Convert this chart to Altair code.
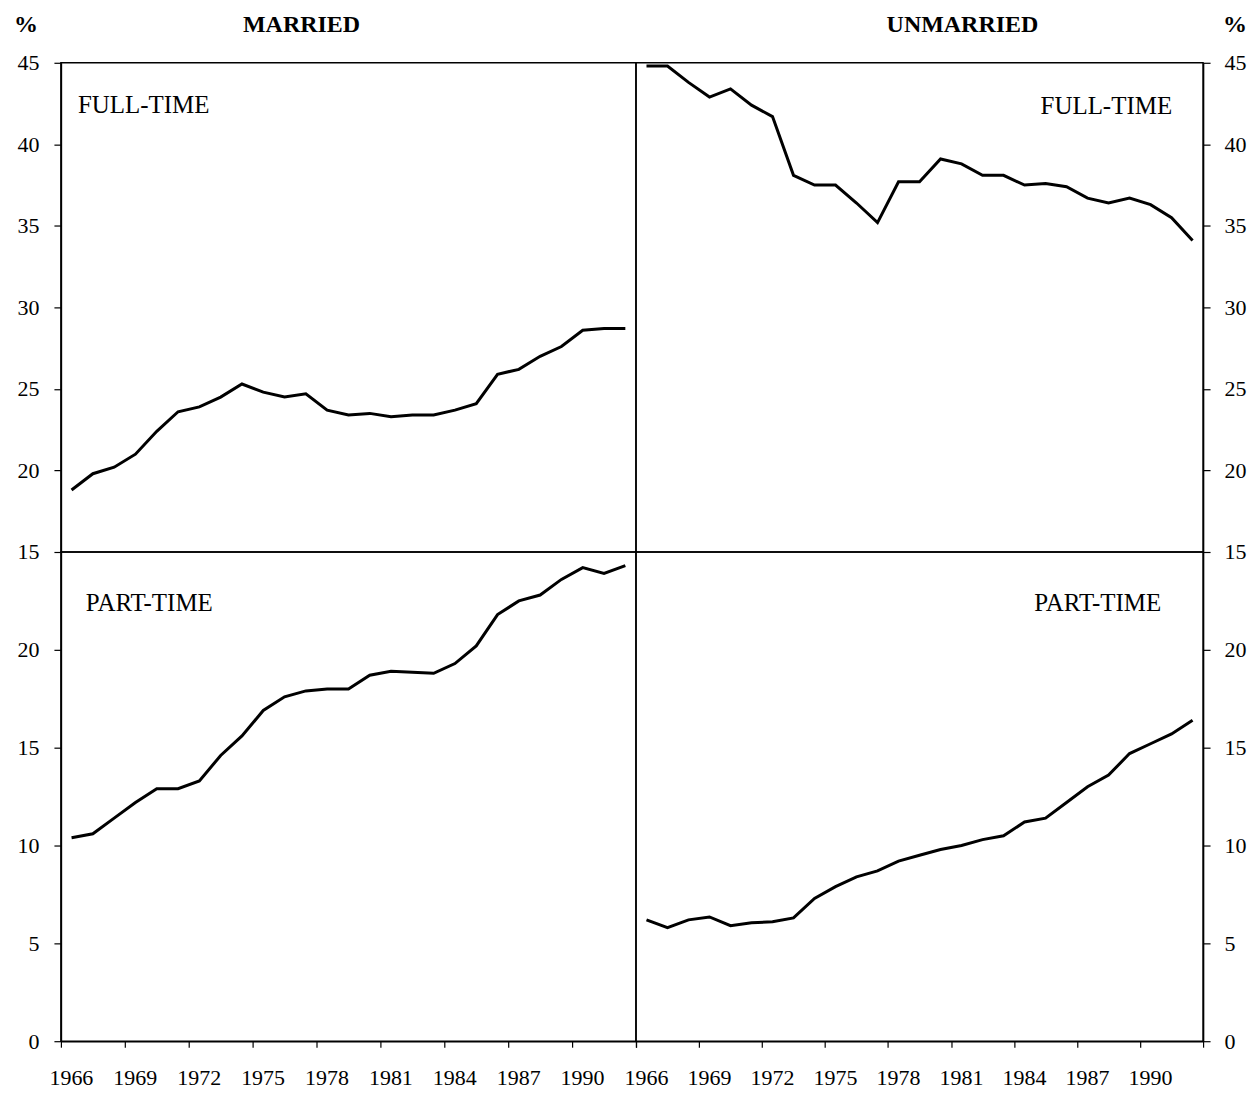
import altair as alt
import pandas as pd

FONT = "Liberation Serif"

years = list(range(1966, 1993))
married_ft = [18.8, 19.8, 20.2, 21.0, 22.4, 23.6, 23.9, 24.5, 25.3, 24.8, 24.5, 24.7, 23.7, 23.4,
              23.5, 23.3, 23.4, 23.4, 23.7, 24.1, 25.9, 26.2, 27.0, 27.6, 28.6, 28.7, 28.7]
married_pt = [10.4, 10.6, 11.4, 12.2, 12.9, 12.9, 13.3, 14.6, 15.6, 16.9, 17.6, 17.9, 18.0, 18.0,
              18.7, 18.9, 18.85, 18.8, 19.3, 20.2, 21.8, 22.5, 22.8, 23.6, 24.2, 23.9, 24.3]
unmarried_ft = [44.8, 44.8, 43.8, 42.9, 43.4, 42.4, 41.7, 38.1, 37.5, 37.5, 36.4, 35.2, 37.7, 37.7,
                39.1, 38.8, 38.1, 38.1, 37.5, 37.6, 37.4, 36.7, 36.4, 36.7, 36.3, 35.5, 34.1]
unmarried_pt = [6.2, 5.8, 6.2, 6.35, 5.9, 6.05, 6.1, 6.3, 7.3, 7.9, 8.4, 8.7, 9.2, 9.5,
                9.8, 10.0, 10.3, 10.5, 11.2, 11.4, 12.2, 13.0, 13.6, 14.7, 15.2, 15.7, 16.4]

# tick labels every third year; ticks sit at the year-band boundaries
tick_years = [1966, 1969, 1972, 1975, 1978, 1981, 1984, 1987, 1990, 1993]
ft_ticks = [15, 20, 25, 30, 35, 40, 45]
pt_ticks = [0, 5, 10, 15, 20]

x_domain = [years[0] - 0.5, years[-1] + 0.5]
x_tick_pos = [y - 0.5 for y in tick_years]

LW, RW, H = 576, 568, 490


def line_layer(values, ydomain, yticks, orient, show_x):
    df = pd.DataFrame({"year": years, "pct": values})
    if show_x:
        xaxis = alt.Axis(values=x_tick_pos,
                         labelExpr="datum.value < 1991 ? format(datum.value + 0.5, 'd') : ''",
                         labelOffset=10, labelFlush=False, labelOverlap=False, labelBound=False,
                         labelPadding=20, tickSize=6, title=None, grid=False)
    else:
        xaxis = None
    pad = 15 if orient == "left" else 14
    yaxis = alt.Axis(values=yticks, orient=orient, title=None, grid=False, labelFlush=False,
                     labelOverlap=False, labelBound=False, tickSize=7, labelPadding=pad)
    return alt.Chart(df).mark_line(color="black", strokeWidth=3).encode(
        x=alt.X("year:Q", scale=alt.Scale(domain=x_domain, nice=False, zero=False), axis=xaxis),
        y=alt.Y("pct:Q", scale=alt.Scale(domain=ydomain, nice=False, zero=False), axis=yaxis),
    )


def txt(label, x, y, align="center", size=25, weight="normal"):
    return alt.Chart(pd.DataFrame({"label": [label]})).mark_text(
        align=align, baseline="middle", font=FONT, fontSize=size, fontWeight=weight, color="black"
    ).encode(x=alt.value(x), y=alt.value(y), text="label:N")


tl = alt.layer(
    line_layer(married_ft, [15, 45], ft_ticks, "left", False),
    txt("%", -35, -38, size=24, weight="bold"),
    txt("MARRIED", 241, -38, size=24, weight="bold"),
    txt("FULL-TIME", 17, 42, align="left"),
).properties(width=LW, height=H)

bl = alt.layer(
    line_layer(married_pt, [0, 25], pt_ticks, "left", True),
    txt("PART-TIME", 25, 51, align="left"),
).properties(width=LW, height=H)

tr = alt.layer(
    line_layer(unmarried_ft, [15, 45], ft_ticks, "right", False),
    txt("UNMARRIED", 327, -38, size=24, weight="bold"),
    txt("%", 600, -38, size=24, weight="bold"),
    txt("FULL-TIME", 537, 43, align="right"),
).properties(width=RW, height=H)

br = alt.layer(
    line_layer(unmarried_pt, [0, 25], pt_ticks, "right", True),
    txt("PART-TIME", 526, 51, align="right"),
).properties(width=RW, height=H)

chart = alt.concat(tl, tr, bl, br, columns=2, spacing=0, bounds="flush").resolve_scale(
    x="independent", y="independent"
).properties(
    padding={"left": 5, "top": 3, "right": 0, "bottom": 0}
).configure_view(
    stroke="black", strokeWidth=1.5
).configure_axis(
    domainColor="black", domainWidth=1.5, tickColor="black", tickWidth=1.2,
    labelFont=FONT, labelFontSize=22, labelColor="black"
)

chart.save("out.html", embed_options={"renderer": "svg", "actions": False})
